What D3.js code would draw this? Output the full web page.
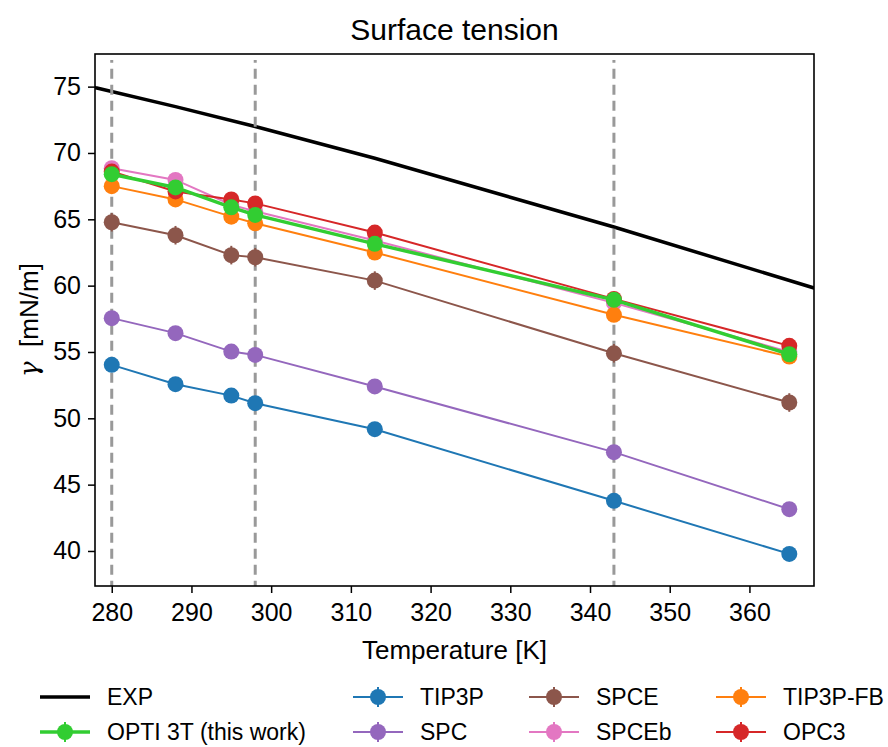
<!DOCTYPE html>
<html>
<head>
<meta charset="utf-8">
<script src="https://cdn.jsdelivr.net/npm/d3@7"></script>
<style>
  body { margin: 0; background: #fff; }
  svg { font-family: "Liberation Sans", Arial, sans-serif; }
</style>
</head>
<body>
<script>
// temperatures of the simulations
const temps = [280, 288, 295, 298, 313, 343, 365];

// experimental curve
const expT = [277, 278, 288, 298, 313, 343, 368, 369];
const expY = [75.08, 74.92, 73.49, 71.99, 69.60, 64.42, 59.84, 59.65];

// model series (value, error)
const tip3p   = [54.03, 52.57, 51.71, 51.14, 49.18, 43.78, 39.78];
const tip3pE  = [0.3, 0.3, 0.3, 0.3, 0.3, 0.3, 0.3];
const spc     = [57.55, 56.42, 55.03, 54.78, 52.40, 47.45, 43.15];
const spcE    = [0.3, 0.3, 0.3, 0.3, 0.3, 0.3, 0.3];
const spce    = [64.78, 63.80, 62.30, 62.14, 60.38, 54.90, 51.19];
const spceE   = [0.7, 0.7, 0.7, 0.7, 0.7, 0.7, 0.7];
const spceb   = [68.85, 67.97, 66.10, 65.60, 63.40, 58.70, 55.00];
const spcebE  = [0.3, 0.3, 0.3, 0.3, 0.3, 0.3, 0.3];
const tip3pfb = [67.50, 66.50, 65.20, 64.70, 62.50, 57.80, 54.65];
const tip3pfbE= [0.3, 0.3, 0.3, 0.3, 0.3, 0.3, 0.3];
const opc3    = [68.60, 67.10, 66.50, 66.20, 64.00, 59.00, 55.46];
const opc3E   = [0.4, 0.4, 0.4, 0.4, 0.4, 0.4, 0.4];
const opti3t  = [68.40, 67.40, 65.90, 65.33, 63.15, 58.93, 54.83];
const opti3tE = [0.4, 0.4, 0.4, 0.4, 0.4, 0.4, 0.4];

const vlineT = [280, 298, 343];
const xTicks = [280, 290, 300, 310, 320, 330, 340, 350, 360];
const yTicks = [40, 45, 50, 55, 60, 65, 70, 75];

const series = [
  {name: "TIP3P", y: tip3p, e: tip3pE, color: "#1f77b4", w: 2},
  {name: "SPC", y: spc, e: spcE, color: "#9467bd", w: 2},
  {name: "SPCE", y: spce, e: spceE, color: "#8c564b", w: 2},
  {name: "SPCEb", y: spceb, e: spcebE, color: "#e377c2", w: 2},
  {name: "TIP3P-FB", y: tip3pfb, e: tip3pfbE, color: "#ff7f0e", w: 2},
  {name: "OPC3", y: opc3, e: opc3E, color: "#d62728", w: 2},
  {name: "OPTI 3T (this work)", y: opti3t, e: opti3tE, color: "#32cd32", w: 3.5}
];

const W = 888, H = 747;
const margin = {left: 95, right: 74, top: 54, bottom: 161};

const svg = d3.select("body").append("svg")
  .attr("width", W).attr("height", H);

const sx = d3.scaleLinear().domain([277.9, 368.1])
  .range([margin.left, W - margin.right]);
const sy = d3.scaleLinear().domain([37.36, 77.46])
  .range([H - margin.bottom, margin.top]);

svg.append("clipPath").attr("id", "clip")
  .append("rect")
  .attr("x", sx.range()[0]).attr("y", sy.range()[1])
  .attr("width", sx.range()[1] - sx.range()[0])
  .attr("height", sy.range()[0] - sy.range()[1]);

const plot = svg.append("g").attr("clip-path", "url(#clip)");

// experiment
plot.append("path")
  .datum(expT.map((t, i) => [t, expY[i]]))
  .attr("fill", "none").attr("stroke", "#000").attr("stroke-width", 3.5)
  .attr("d", d3.line().x(d => sx(d[0])).y(d => sy(d[1])));

// dashed guide lines
plot.selectAll(".vline").data(vlineT).enter().append("line")
  .attr("x1", d => sx(d)).attr("x2", d => sx(d))
  .attr("y1", sy(37.0)).attr("y2", sy(77.0))
  .attr("stroke", "#999").attr("stroke-width", 3)
  .attr("stroke-dasharray", "10,6");

series.forEach(s => {
  const pts = temps.map((t, i) => [t, s.y[i], s.e[i]]);
  const g = plot.append("g");
  g.append("path").datum(pts)
    .attr("fill", "none").attr("stroke", s.color).attr("stroke-width", s.w)
    .attr("d", d3.line().x(d => sx(d[0])).y(d => sy(d[1])));
  g.selectAll(".err").data(pts).enter().append("line")
    .attr("x1", d => sx(d[0])).attr("x2", d => sx(d[0]))
    .attr("y1", d => sy(d[1] - d[2])).attr("y2", d => sy(d[1] + d[2]))
    .attr("stroke", s.color).attr("stroke-width", 2);
  g.selectAll(".pt").data(pts).enter().append("circle")
    .attr("cx", d => sx(d[0])).attr("cy", d => sy(d[1]))
    .attr("r", 8).attr("fill", s.color);
});

// axes
const gx = svg.append("g")
  .attr("transform", `translate(0,${sy.range()[0]})`)
  .call(d3.axisBottom(sx).tickValues(xTicks).tickSize(7).tickPadding(10).tickSizeOuter(0));
const gy = svg.append("g")
  .attr("transform", `translate(${sx.range()[0]},0)`)
  .call(d3.axisLeft(sy).tickValues(yTicks).tickSize(7).tickPadding(7).tickSizeOuter(0));
[gx, gy].forEach(g => {
  g.select(".domain").remove();
  g.selectAll(".tick line").attr("stroke", "#000").attr("stroke-width", 1.5);
  g.selectAll(".tick text").attr("font-size", 25).attr("fill", "#000")
    .attr("font-family", "'Liberation Sans', Arial, sans-serif");
});

// frame
svg.append("rect")
  .attr("x", sx.range()[0]).attr("y", sy.range()[1])
  .attr("width", sx.range()[1] - sx.range()[0])
  .attr("height", sy.range()[0] - sy.range()[1])
  .attr("fill", "none").attr("stroke", "#000").attr("stroke-width", 1.6);

// titles
const cx = (sx.range()[0] + sx.range()[1]) / 2;
svg.append("text").attr("x", cx).attr("y", 40)
  .attr("text-anchor", "middle").attr("font-size", 30).text("Surface tension");
svg.append("text").attr("x", cx).attr("y", 659)
  .attr("text-anchor", "middle").attr("font-size", 26).text("Temperature [K]");
const yl = svg.append("text")
  .attr("transform", `translate(38,${(sy.range()[0] + sy.range()[1]) / 2}) rotate(-90)`)
  .attr("text-anchor", "middle").attr("font-size", 26);
yl.append("tspan").attr("font-style", "italic").attr("font-family", "'DejaVu Serif', serif").text("γ");
yl.append("tspan").text("  [mN/m]").attr("xml:space", "preserve");

// legend
const legendItems = [
  {name: "EXP", color: "#000", w: 3.5, marker: false, col: 0, row: 0},
  {name: "OPTI 3T (this work)", color: "#32cd32", w: 3.5, marker: true, col: 0, row: 1},
  {name: "TIP3P", color: "#1f77b4", w: 2, marker: true, col: 1, row: 0},
  {name: "SPC", color: "#9467bd", w: 2, marker: true, col: 1, row: 1},
  {name: "SPCE", color: "#8c564b", w: 2, marker: true, col: 2, row: 0},
  {name: "SPCEb", color: "#e377c2", w: 2, marker: true, col: 2, row: 1},
  {name: "TIP3P-FB", color: "#ff7f0e", w: 2, marker: true, col: 3, row: 0},
  {name: "OPC3", color: "#d62728", w: 2, marker: true, col: 3, row: 1}
];
const colX = [40, 353, 529, 716];
const rowY = [697, 732];
const lg = svg.append("g");
legendItems.forEach(it => {
  const x0 = colX[it.col], y0 = rowY[it.row];
  const g = lg.append("g");
  g.append("line").attr("x1", x0).attr("x2", x0 + 50).attr("y1", y0).attr("y2", y0)
    .attr("stroke", it.color).attr("stroke-width", it.w);
  if (it.marker) {
    g.append("line").attr("x1", x0 + 25).attr("x2", x0 + 25)
      .attr("y1", y0 - 10).attr("y2", y0 + 10)
      .attr("stroke", it.color).attr("stroke-width", 2);
    g.append("circle").attr("cx", x0 + 25).attr("cy", y0).attr("r", 8).attr("fill", it.color);
  }
  g.append("text").attr("x", x0 + 67).attr("y", y0 + 8)
    .attr("font-size", 23).text(it.name);
});
</script>
</body>
</html>
